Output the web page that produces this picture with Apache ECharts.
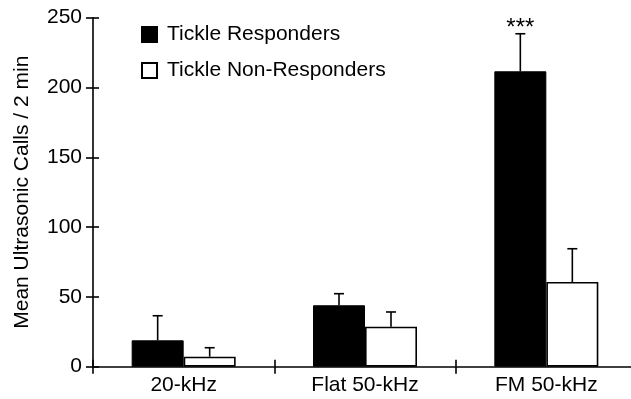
<!DOCTYPE html>
<html>
<head>
<meta charset="utf-8">
<script src="https://cdn.jsdelivr.net/npm/echarts@6/dist/echarts.min.js"></script>
<style>
html,body{margin:0;padding:0;background:#fff;}
#chart{width:631px;height:399px;}
</style>
</head>
<body>
<div id="chart"></div>
<script>
const categories = ['20-kHz', 'Flat 50-kHz', 'FM 50-kHz'];
const seriesNames = ['Tickle Responders', 'Tickle Non-Responders'];
const responders = [18.9, 44.0, 211.6];
const respondersErr = [17.6, 8.3, 26.9];
const nonResponders = [7.2, 28.7, 60.7];
const nonRespondersErr = [6.4, 10.5, 23.8];
const significance = ['', '', '***'];
const yMin = 0, yMax = 250, yStep = 50;
const yTitle = 'Mean Ultrasonic Calls / 2 min';

const FONT = "'Liberation Sans', Arial, Helvetica, sans-serif";
const FS = 21;
const BAR_W = 52;

function errData(means, errs, labels) {
  return means.map((m, i) => [i, m, m + errs[i], labels ? labels[i] : '']);
}

function makeErrRender(offset) {
  return function (params, api) {
    const x0 = api.coord([api.value(0), api.value(1)]);
    const x1 = api.coord([api.value(0), api.value(2)]);
    const x = x0[0] + offset;
    const yb = x0[1];
    const yt = x1[1];
    const style = { stroke: '#000', lineWidth: 1.6 };
    const children = [
      { type: 'line', shape: { x1: x, y1: yb, x2: x, y2: yt }, style: style },
      { type: 'line', shape: { x1: x - 5, y1: yt, x2: x + 5, y2: yt }, style: style }
    ];
    const lab = api.value(3);
    if (lab) {
      children.push({
        type: 'text',
        style: { text: String(lab), x: x, y: yt - 5, textAlign: 'center', textVerticalAlign: 'middle', fill: '#000', font: '24px ' + FONT }
      });
    }
    return { type: 'group', children: children };
  };
}

const chart = echarts.init(document.getElementById('chart'), null, { renderer: 'canvas' });
chart.setOption({
  animation: false,
  backgroundColor: '#fff',
  textStyle: { fontFamily: FONT, color: '#000' },
  grid: { left: 93, width: 544, top: 17.7, height: 349, containLabel: false, outerBoundsMode: 'none' },
  legend: {
    orient: 'vertical',
    left: 136,
    top: 19,
    itemWidth: 15,
    itemHeight: 15,
    itemGap: 15,
    icon: 'rect',
    data: seriesNames,
    textStyle: { fontFamily: FONT, fontSize: FS, color: '#000', padding: [0, 0, 0, 5] }
  },
  xAxis: [{
    type: 'category',
    data: categories,
    axisLine: { lineStyle: { color: '#000', width: 1.6 } },
    axisTick: { show: true, alignWithLabel: false, length: 7, lineStyle: { color: '#000', width: 1.6 } },
    axisLabel: { color: '#000', fontSize: FS, fontFamily: FONT, margin: 8 }
  }, {
    type: 'category',
    data: categories,
    position: 'bottom',
    axisLine: { show: false },
    axisTick: { show: true, inside: true, alignWithLabel: false, length: 7, lineStyle: { color: '#000', width: 1.6 } },
    axisLabel: { show: false }
  }],
  yAxis: [{
    type: 'value',
    min: yMin, max: yMax, interval: yStep,
    name: yTitle,
    nameLocation: 'middle',
    nameGap: 60,
    nameTextStyle: { fontFamily: FONT, fontSize: FS, color: '#000' },
    axisLine: { show: true, lineStyle: { color: '#000', width: 1.6 } },
    axisTick: { show: true, length: 7, lineStyle: { color: '#000', width: 1.6 } },
    axisLabel: { color: '#000', fontSize: FS, fontFamily: FONT, margin: 11 },
    splitLine: { show: false }
  }, {
    type: 'value',
    min: yMin, max: yMax, interval: yStep,
    position: 'left',
    axisLine: { show: false },
    axisTick: { show: true, inside: true, length: 6, lineStyle: { color: '#000', width: 1.6 } },
    axisLabel: { show: false },
    splitLine: { show: false }
  }],
  series: [
    {
      name: seriesNames[0],
      type: 'bar',
      data: responders,
      barWidth: BAR_W,
      barGap: '0%',
      itemStyle: { color: '#000', borderColor: '#000', borderWidth: 1 },
      z: 2
    },
    {
      name: seriesNames[1],
      type: 'bar',
      data: nonResponders,
      barWidth: BAR_W,
      barGap: '0%',
      itemStyle: { color: '#fff', borderColor: '#000', borderWidth: 1.6 },
      z: 2
    },
    {
      type: 'custom',
      name: 'respErr',
      data: errData(responders, respondersErr, significance),
      renderItem: makeErrRender(-BAR_W / 2),
      encode: { x: 0, y: [1, 2] },
      z: 3,
      silent: true
    },
    {
      type: 'custom',
      name: 'nonRespErr',
      data: errData(nonResponders, nonRespondersErr, null),
      renderItem: makeErrRender(BAR_W / 2),
      encode: { x: 0, y: [1, 2] },
      z: 3,
      silent: true
    }
  ]
});
</script>
</body>
</html>
